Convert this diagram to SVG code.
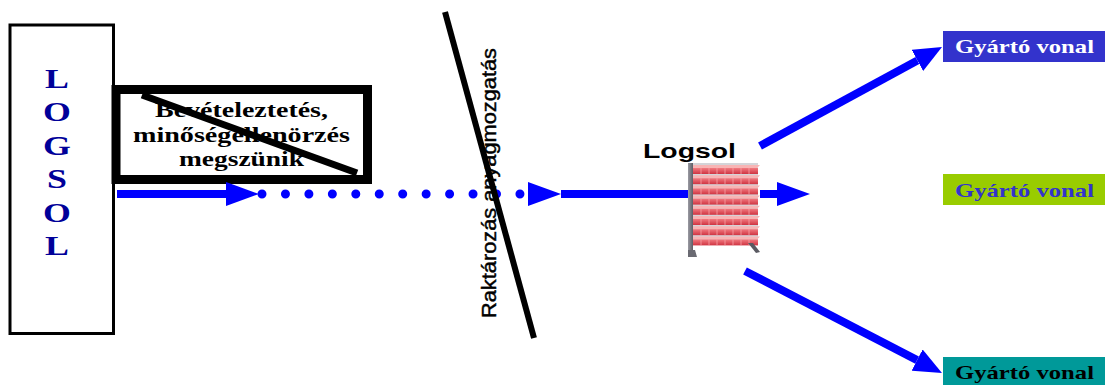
<svg xmlns="http://www.w3.org/2000/svg" width="1108" height="385" viewBox="0 0 1108 385">
  <defs>
    <style>
      .serif { font-family: "Liberation Serif", "Times New Roman", serif; font-weight: bold; }
      .sans { font-family: "Liberation Sans", Arial, sans-serif; }
      .flow { fill: none; stroke: #0000ff; stroke-width: 8; }
      .dots { fill: none; stroke: #0000ff; stroke-width: 9; stroke-linecap: round; stroke-dasharray: 0 23.45; }
      .cross { stroke: #000; stroke-linecap: butt; }
      .lineText { font-size: 19px; text-anchor: middle; }
    </style>
    <marker id="head" markerUnits="userSpaceOnUse" viewBox="0 0 33 24" markerWidth="33" markerHeight="24" refX="0" refY="12" orient="auto">
      <path d="M0,0 L33,12 L0,24 Z" fill="#0000ff"/>
    </marker>
    <marker id="headS" markerUnits="userSpaceOnUse" viewBox="0 0 28 24" markerWidth="28" markerHeight="24" refX="0" refY="12" orient="auto">
      <path d="M0,0 L28,12 L0,24 Z" fill="#0000ff"/>
    </marker>
    <linearGradient id="post" x1="0" x2="1" y1="0" y2="0">
      <stop offset="0" stop-color="#9a9aa2"/>
      <stop offset="1" stop-color="#5e5e66"/>
    </linearGradient>
    <linearGradient id="binFront" x1="0" x2="0" y1="0" y2="1">
      <stop offset="0" stop-color="#f27a80"/>
      <stop offset="1" stop-color="#cf3442"/>
    </linearGradient>
    <!-- one shelf row of bins, placed by translate -->
    <g id="binRow">
      <path d="M693,0 H760 L757,3 H693 Z" fill="#f8b4b4"/>
      <rect x="693" y="3" width="65" height="6" fill="url(#binFront)"/>
      <path d="M701,3 V9 M709,3 V9 M717,3 V9 M725,3 V9 M733,3 V9 M741,3 V9 M749,3 V9" stroke="#f7a2a6" stroke-width="0.8"/>
    </g>
  </defs>

  <rect width="1108" height="385" fill="#ffffff"/>

  <!-- supplier block -->
  <g id="logsol-source">
    <rect x="10" y="25" width="103.5" height="308.5" fill="#ffffff" stroke="#000" stroke-width="3"/>
    <g class="serif" font-size="28" fill="#000099" text-anchor="middle" transform="matrix(1.28 0 0 1 -16 0)">
      <text x="57" y="88">L</text>
      <text x="57" y="121">O</text>
      <text x="57" y="155">G</text>
      <text x="57" y="188">S</text>
      <text x="57" y="222">O</text>
      <text x="57" y="255">L</text>
    </g>
  </g>

  <!-- discontinued step: goods receipt / quality check -->
  <g id="receipt-check">
    <rect x="116" y="89.5" width="251.5" height="90" fill="#ffffff" stroke="#000" stroke-width="9"/>
    <g class="serif" font-size="20" fill="#000" text-anchor="middle">
      <text x="241.5" y="117" textLength="173" lengthAdjust="spacingAndGlyphs">Bevételeztetés,</text>
      <text x="241.5" y="142" textLength="217" lengthAdjust="spacingAndGlyphs">minőségellenörzés</text>
      <text x="241.5" y="166" textLength="125" lengthAdjust="spacingAndGlyphs">megszünik</text>
    </g>
    <line class="cross" x1="142" y1="95" x2="357" y2="173" stroke-width="7"/>
  </g>

  <!-- flow connectors -->
  <g id="connectors">
    <path class="flow" d="M117,194 H226" marker-end="url(#head)"/>
    <path class="dots" d="M262,194 H528" marker-end="url(#head)"/>
    <path class="flow" d="M561,194 H688"/>
    <path class="flow" d="M760,194 H777" marker-end="url(#head)"/>
    <path class="flow" d="M760,146 L917.4,60.4" marker-end="url(#headS)"/>
    <path class="flow" d="M745,271 L917.1,360.1" marker-end="url(#headS)"/>
  </g>

  <!-- discontinued step: warehousing / material handling -->
  <g id="warehousing">
    <text class="sans" font-size="27" fill="#000" stroke="#000" stroke-width="0.6" transform="translate(496,318) rotate(-90) scale(1,0.72)" textLength="270" lengthAdjust="spacingAndGlyphs">Raktározás anyagmozgatás</text>
    <line class="cross" x1="445" y1="12" x2="534" y2="338" stroke-width="6"/>
  </g>

  <!-- Logsol bin rack -->
  <g id="logsol-rack">
    <text class="sans" x="643" y="158" font-size="21" font-weight="bold" fill="#000" textLength="93" lengthAdjust="spacingAndGlyphs">Logsol</text>
    <rect x="691" y="163" width="67" height="82" fill="#d4d4d8"/>
    <use href="#binRow" transform="translate(0,165)"/>
    <use href="#binRow" transform="translate(0,175.2)"/>
    <use href="#binRow" transform="translate(0,185.4)"/>
    <use href="#binRow" transform="translate(0,195.6)"/>
    <use href="#binRow" transform="translate(0,205.8)"/>
    <use href="#binRow" transform="translate(0,216)"/>
    <use href="#binRow" transform="translate(0,226.2)"/>
    <use href="#binRow" transform="translate(0,236.4)"/>
    <rect x="688" y="163" width="5" height="94" fill="url(#post)"/>
    <path d="M688,257 H697 L695,250 H688 Z" fill="#6a6a72"/>
    <path d="M748,243 H753 L760,252 L756,253 Z" fill="#5a5a62"/>
  </g>

  <!-- production lines -->
  <g id="line-1">
    <rect x="943" y="31" width="162" height="31" fill="#3333cc"/>
    <text class="serif lineText" x="1024.5" y="53" fill="#ffffff" textLength="139" lengthAdjust="spacingAndGlyphs">Gyártó vonal</text>
  </g>
  <g id="line-2">
    <rect x="943" y="174" width="162" height="31" fill="#99cc00"/>
    <text class="serif lineText" x="1024.5" y="197" fill="#3333cc" textLength="139" lengthAdjust="spacingAndGlyphs">Gyártó vonal</text>
  </g>
  <g id="line-3">
    <rect x="943" y="357" width="162" height="31" fill="#009999"/>
    <text class="serif lineText" x="1024.5" y="379" fill="#000000" textLength="139" lengthAdjust="spacingAndGlyphs">Gyártó vonal</text>
  </g>
</svg>
